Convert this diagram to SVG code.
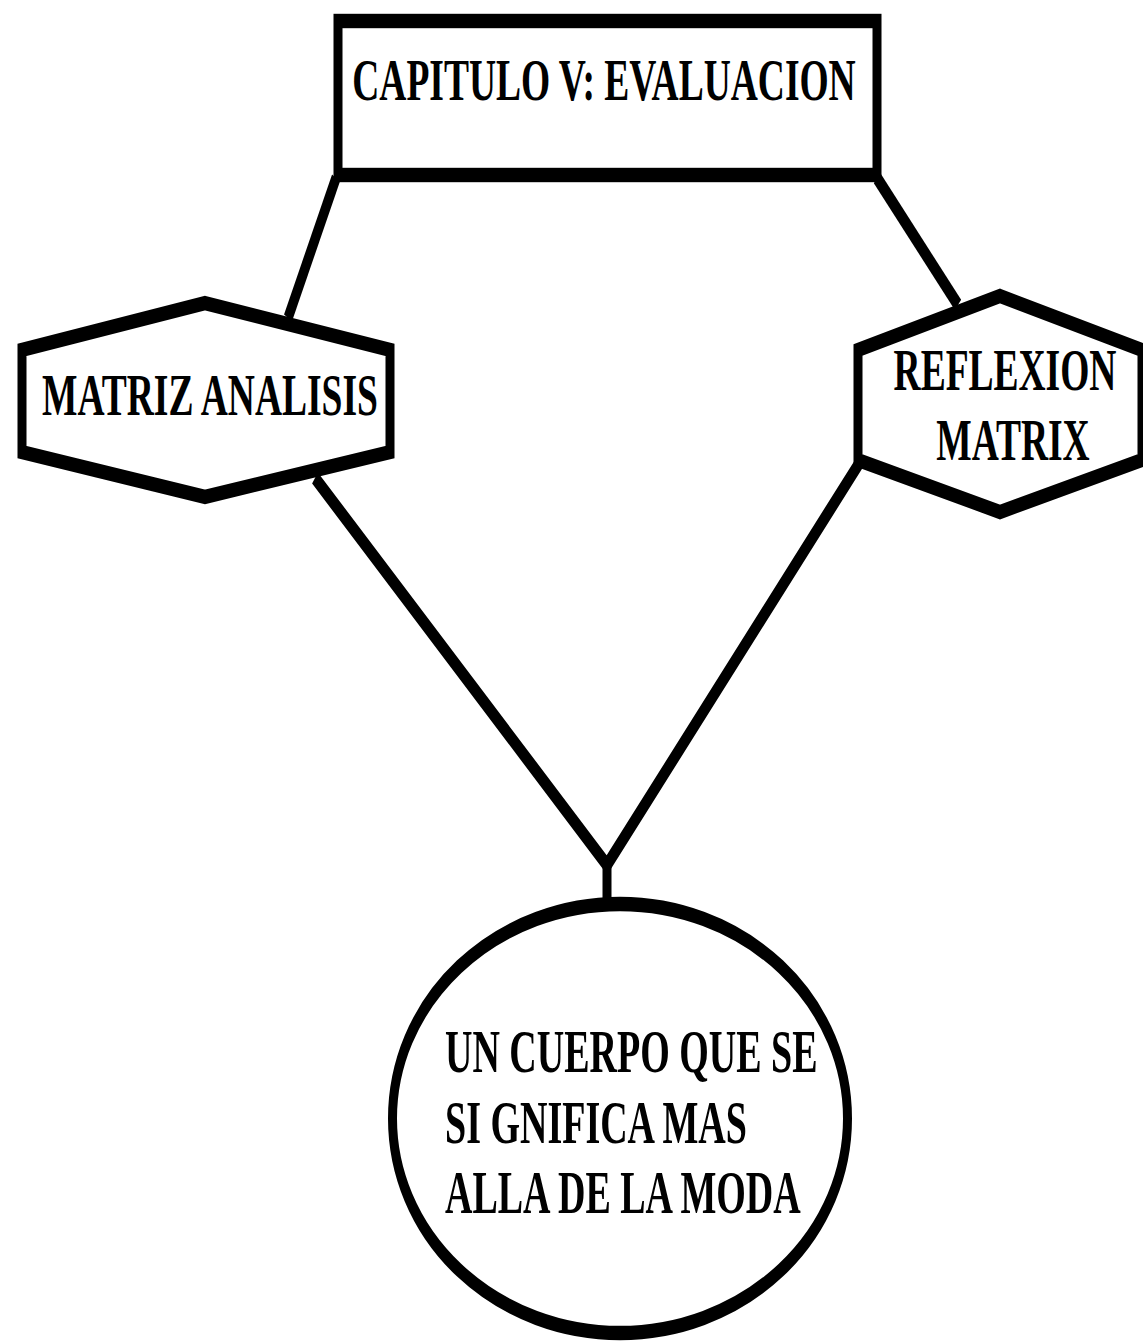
<svg xmlns="http://www.w3.org/2000/svg" width="1143" height="1342" viewBox="0 0 1143 1342">
<style>
.shape{fill:#fff;stroke:#000;stroke-width:9;stroke-linejoin:miter}
.conn{fill:none;stroke:#000;stroke-width:9;stroke-linejoin:miter}
.t{font-family:"Liberation Serif","Times New Roman",serif;font-weight:bold;font-size:37.5px;fill:#000}
.tb{font-size:38px}
</style>
<rect width="1143" height="1342" fill="#fff"/>
<g transform="scale(1,1.6)">
<g id="connectors">
<line class="conn" x1="336" y1="111.25" x2="288" y2="198.75"/>
<line class="conn" x1="877" y1="111.25" x2="958" y2="190.6"/>
<polyline class="conn" points="315,298.75 607,540.6 860,288.75"/>
<line class="conn" x1="607" y1="540.6" x2="607" y2="566"/>
</g>
<g id="capitulo">
<rect class="shape" x="338" y="13.125" width="539" height="96.25"/>
<text class="t" x="604" y="62.5" text-anchor="middle">CAPITULO V: EVALUACION</text>
</g>
<g id="matriz-analisis">
<polygon class="shape" points="205,189.4 390,218.75 390,282.5 205,310.6 22,282.5 22,218.75"/>
<text class="t" x="210" y="259.4" text-anchor="middle">MATRIZ ANALISIS</text>
</g>
<g id="reflexion-matrix">
<polygon class="shape" points="1000,185 1142,218.75 1142,287.5 1000,320 858,287.5 858,218.75"/>
<text class="t" x="1005" y="243.75" text-anchor="middle">REFLEXION</text>
<text class="t" x="1013" y="287.5" text-anchor="middle">MATRIX</text>
</g>
<g id="cuerpo">
<ellipse class="shape" cx="620" cy="699.06" rx="227.5" ry="134.06"/>
<text class="t tb" x="445" y="670">UN CUERPO QUE SE</text>
<text class="t tb" x="445" y="714.4">SI GNIFICA MAS</text>
<text class="t tb" x="445" y="758.1">ALLA DE LA MODA</text>
</g>
</g>
</svg>
